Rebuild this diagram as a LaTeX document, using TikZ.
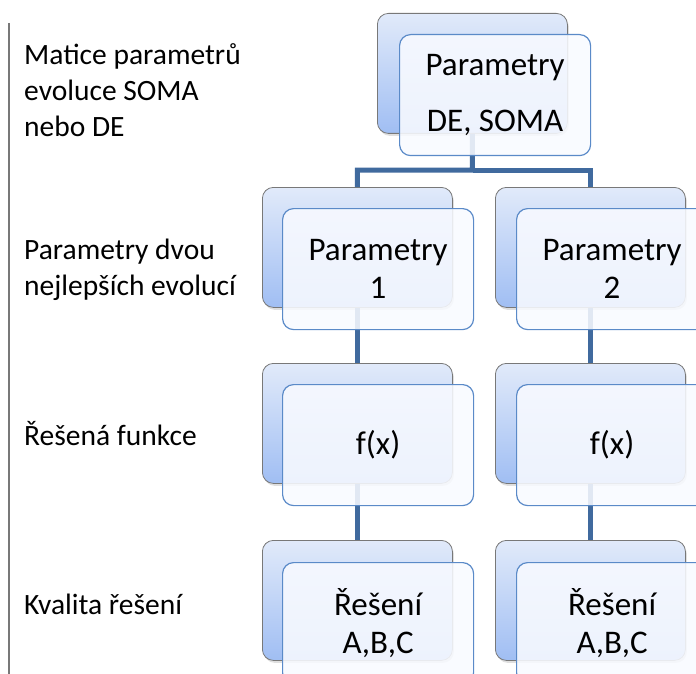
\documentclass[tikz,border=0pt]{standalone}
\usepackage{fontspec}
\setmainfont{Carlito}
\usetikzlibrary{shadows}

\definecolor{linkblue}{RGB}{64,106,158}
\definecolor{backtop}{RGB}{225,234,250}
\definecolor{backbot}{RGB}{160,190,243}
\definecolor{frontfill}{RGB}{248,250,255}
\definecolor{frontdraw}{RGB}{90,138,200}
\definecolor{rulegray}{RGB}{120,120,120}

\tikzset{
  backbox/.style={draw=rulegray, line width=0.8pt, rounded corners=11pt,
    top color=backtop, bottom color=backbot, anchor=north west,
    minimum width=190pt, minimum height=120pt, inner sep=0pt,
    drop shadow={opacity=0.25, shadow xshift=1.5pt, shadow yshift=-2.5pt}},
  frontbox/.style={draw=frontdraw, line width=1.2pt, rounded corners=11pt,
    fill=frontfill, fill opacity=0.88, text opacity=1, anchor=north west,
    minimum width=191pt, minimum height=121pt, inner sep=0pt,
    align=center, font=\fontsize{33}{38}\selectfont},
  link/.style={draw=linkblue, line width=5pt},
  % multi-line captions: the base anchor sits on the last line
  sidelabel/.style={anchor=base west, align=left, inner sep=0pt,
    font=\fontsize{29.5}{36}\selectfont}
}

\begin{document}
\begin{tikzpicture}[x=1pt, y=-1pt]
  \useasboundingbox (0,0) rectangle (696,674);
  \clip (0,0) rectangle (696,674);

  % left rule and row captions
  \draw[rulegray, line width=1.5pt] (9,23) -- (9,674);
  \node[sidelabel] (capA) at (24,137) {Matice parametrů\\evoluce SOMA\\nebo DE};
  \node[sidelabel] (capB) at (24,295) {Parametry dvou\\nejlepších evolucí};
  \node[sidelabel] (capC) at (24,445) {Řešená funkce};
  \node[sidelabel] (capD) at (24,614) {Kvalita řešení};

  % back plates
  \node[backbox] (topB) at (377,13) {};
  \node[backbox] (p1B) at (262,187) {};
  \node[backbox] (p2B) at (495,187) {};
  \node[backbox] (f1B) at (262,363) {};
  \node[backbox] (f2B) at (495,363) {};
  \node[backbox] (r1B) at (262,540) {};
  \node[backbox] (r2B) at (495,540) {};

  % connectors
  \coordinate (fork) at (472.5,170);
  \draw[link] (topB.south) -- (fork) -| (p1B.north);
  \draw[link] (fork) -| (p2B.north);
  \draw[link] (p1B.south) -- (f1B.north);
  \draw[link] (p2B.south) -- (f2B.north);
  \draw[link] (f1B.south) -- (r1B.north);
  \draw[link] (f2B.south) -- (r2B.north);

  % front cards
  \node[frontbox, font=\fontsize{33}{56}\selectfont] (top) at (399,34) {Parametry\\DE, SOMA};
  \node[frontbox] (p1) at (282,208) {Parametry\\1};
  \node[frontbox] (p2) at (516,208) {Parametry\\2};
  \node[frontbox] (f1) at (282,384) {f(x)};
  \node[frontbox] (f2) at (516,384) {f(x)};
  \node[frontbox] (r1) at (282,562) {Řešení\\A,B,C};
  \node[frontbox] (r2) at (516,562) {Řešení\\A,B,C};
\end{tikzpicture}
\end{document}
